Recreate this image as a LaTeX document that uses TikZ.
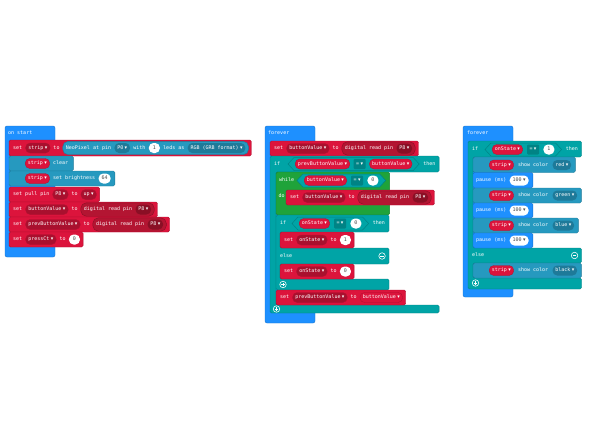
\documentclass[tikz,border=0pt]{standalone}
\usepackage{fontspec}
\usetikzlibrary{positioning,fit,calc}
\newfontfamily\monof{DejaVu Sans Mono}
\newfontfamily\symf{DejaVu Sans}
\newcommand\ftsz{\fontsize{5pt}{5.5pt}\selectfont}
\newcommand\dd{\hspace{1.4pt}{\symf ▾}}
\definecolor{mblue}{HTML}{1E90FF}
\definecolor{mblueD}{HTML}{1873CC}
\definecolor{mred}{HTML}{DC143C}
\definecolor{mredD}{HTML}{B01030}
\definecolor{ddred}{HTML}{A9102E}
\definecolor{pinred}{HTML}{B31532}
\definecolor{pinD}{HTML}{8A0F25}
\definecolor{mteal}{HTML}{00A4A6}
\definecolor{mtealD}{HTML}{008385}
\definecolor{npx}{HTML}{2699BF}
\definecolor{npxD}{HTML}{1E7A99}
\definecolor{mgreen}{HTML}{1FA33A}
\definecolor{mgreenD}{HTML}{17822E}
\pgfdeclarelayer{back}\pgfdeclarelayer{mid}
\pgfsetlayers{back,mid,main}
\tikzset{
 t/.style={font=\monof\ftsz, text=white, inner sep=0pt, text height=3.7pt, text depth=1.1pt},
 pill/.style={t, rounded corners=4.6pt, inner xsep=2.8pt, inner ysep=2.6pt},
 ddr/.style={pill, fill=ddred, draw=mredD, line width=0.3pt},
 var/.style={pill, fill=mred, draw=mredD, line width=0.3pt},
 ddn/.style={pill, fill=npxD},
 ddp/.style={pill, fill=pinD},
 num/.style={pill, fill=white, text=black!70, minimum width=11pt, inner xsep=3pt},
 op/.style={t, fill=mtealD, rounded corners=1pt, inner xsep=2.5pt, inner ysep=2.6pt},
 rep/.style={rounded corners=5.5pt, inner xsep=3pt, inner ysep=1.5pt, line width=0.4pt},
 stm/.style={line width=0.4pt, rounded corners=1.5pt},
}
% statement background: fill, draw, x, ytop, ybot, lastnode, pad, name
\newcommand\stm[8]{\coordinate (#8) at ([xshift=#7]#6.east);
 \begin{pgfonlayer}{back}\draw[stm, fill=#1, draw=#2] (#3,#4) rectangle (#8 |- 0,#5);\end{pgfonlayer}}
% reporter: fill, draw, first, last, name
\newcommand\rep[5]{\begin{pgfonlayer}{mid}\node[rep, fill=#1, draw=#2, fit=(#3)(#4)] (#5) {};\end{pgfonlayer}}
% hexagon: first, last, name of right tip
\newcommand\hexa[3]{\coordinate (#3) at ([xshift=7pt]#2.east);
 \begin{pgfonlayer}{mid}
 \draw[fill=mteal, draw=mtealD, line width=0.5pt] ([xshift=-7pt]#1.west) -- ([xshift=-1pt,yshift=6.5pt]#1.west) -- ([xshift=1pt,yshift=6.5pt]#2.east) -- (#3) -- ([xshift=1pt,yshift=-6.5pt]#2.east) -- ([xshift=-1pt,yshift=-6.5pt]#1.west) -- cycle;
 \end{pgfonlayer}}
% button: name, position, 1=plus 0=minus
\newcommand\btn[3]{\node[circle, draw=white, line width=0.55pt, minimum size=6.5pt, inner sep=0pt] (#1) at #2 {};
 \draw[white, line width=0.55pt] ([xshift=-1.7pt]#1.center) -- ([xshift=1.7pt]#1.center);
 \ifnum#3=1 \draw[white, line width=0.55pt] ([yshift=-1.7pt]#1.center) -- ([yshift=1.7pt]#1.center);\fi}
\begin{document}
\begin{tikzpicture}[x=1pt,y=-1pt]
\begin{pgfonlayer}{back}
\fill[white] (0,0) rectangle (592,444);
\end{pgfonlayer}
\useasboundingbox (0,0) rectangle (592,444);

%%%%%%%%%%%% LEFT: on start
\begin{pgfonlayer}{back}
\draw[fill=mblue, draw=mblueD, line width=0.4pt, rounded corners=2pt] (5,126) rectangle (55,257);
\end{pgfonlayer}
\node[t, anchor=west] (L0) at (8,133) {on start};
% L1
\node[t, anchor=west] (L1a) at (13,148) {set};
\node[ddr, right=3pt of L1a] (L1b) {strip\dd};
\node[t, right=3pt of L1b] (L1c) {to};
\node[t, right=6pt of L1c] (L1d) {NeoPixel at pin};
\node[ddn, right=3pt of L1d] (L1e) {P0\dd};
\node[t, right=3pt of L1e] (L1f) {with};
\node[num, right=3pt of L1f] (L1g) {1};
\node[t, right=3pt of L1g] (L1h) {leds as};
\node[ddn, right=3pt of L1h] (L1i) {RGB (GRB format)\dd};
\rep{npx}{npxD}{L1d}{L1i}{L1r}
\stm{mred}{mredD}{9}{140}{156}{L1r}{2.5pt}{L1z}
% L2
\node[var, anchor=west] (L2a) at (25,163.5) {strip\dd};
\node[t, right=3pt of L2a] (L2b) {clear};
\stm{npx}{npxD}{9}{156}{171}{L2b}{5pt}{L2z}
% L3
\node[var, anchor=west] (L3a) at (25,178.5) {strip\dd};
\node[t, right=3pt of L3a] (L3b) {set brightness};
\node[num, right=3pt of L3b] (L3c) {64};
\stm{npx}{npxD}{9}{171}{186}{L3c}{4pt}{L3z}
% L4
\node[t, anchor=west] (L4a) at (13,194.5) {set pull pin};
\node[ddr, right=3pt of L4a] (L4b) {P8\dd};
\node[t, right=3pt of L4b] (L4c) {to};
\node[ddr, right=3pt of L4c] (L4d) {up\dd};
\stm{mred}{mredD}{9}{187}{202}{L4d}{3pt}{L4z}
% L5
\node[t, anchor=west] (L5a) at (13,209.5) {set};
\node[ddr, right=3pt of L5a] (L5b) {buttonValue\dd};
\node[t, right=3pt of L5b] (L5c) {to};
\node[t, right=6pt of L5c] (L5d) {digital read pin};
\node[ddp, right=3pt of L5d] (L5e) {P8\dd};
\rep{pinred}{pinD}{L5d}{L5e}{L5r}
\stm{mred}{mredD}{9}{202}{217}{L5r}{3pt}{L5z}
% L6
\node[t, anchor=west] (L6a) at (13,224.5) {set};
\node[ddr, right=3pt of L6a] (L6b) {prevButtonValue\dd};
\node[t, right=3pt of L6b] (L6c) {to};
\node[t, right=6pt of L6c] (L6d) {digital read pin};
\node[ddp, right=3pt of L6d] (L6e) {P8\dd};
\rep{pinred}{pinD}{L6d}{L6e}{L6r}
\stm{mred}{mredD}{9}{217}{232}{L6r}{3pt}{L6z}
% L7
\node[t, anchor=west] (L7a) at (13,239.5) {set};
\node[ddr, right=3pt of L7a] (L7b) {pressCt\dd};
\node[t, right=3pt of L7b] (L7c) {to};
\node[num, right=3pt of L7c] (L7d) {0};
\stm{mred}{mredD}{9}{232}{247}{L7d}{3pt}{L7z}

%%%%%%%%%%%% MIDDLE: forever
\begin{pgfonlayer}{back}
\draw[fill=mblue, draw=mblueD, line width=0.4pt, rounded corners=2pt] (265,126) rectangle (315,323);
\end{pgfonlayer}
\node[t, anchor=west] (M0) at (268,133) {forever};
% M1
\node[t, anchor=west] (M1a) at (274,148.5) {set};
\node[ddr, right=3pt of M1a] (M1b) {buttonValue\dd};
\node[t, right=3pt of M1b] (M1c) {to};
\node[t, right=6pt of M1c] (M1d) {digital read pin};
\node[ddp, right=3pt of M1d] (M1e) {P8\dd};
\rep{pinred}{pinD}{M1d}{M1e}{M1r}
\stm{mred}{mredD}{270}{141}{156}{M1r}{3pt}{M1z}
% outer if header
\node[t, anchor=west] (M2a) at (274,164) {if};
\node[var, anchor=west] (M2b) at (295,164) {prevButtonValue\dd};
\node[op, right=3.5pt of M2b] (M2c) {=\dd};
\node[var, right=3.5pt of M2c] (M2d) {buttonValue\dd};
\hexa{M2b}{M2d}{M2h}
\node[t, right=4pt of M2h] (M2e) {then};
\coordinate (M2z) at ([xshift=3.5pt]M2e.east);
\begin{pgfonlayer}{back}
\draw[fill=mteal, draw=mtealD, line width=0.4pt, rounded corners=1.5pt] (270,156) -- (M2z |- 0,156) -- (M2z |- 0,172) -- (276,172) -- (276,305) -- (M2z |- 0,305) -- (M2z |- 0,313) -- (270,313) -- cycle;
\end{pgfonlayer}
% while
\node[t, anchor=west] (M3a) at (279,180.5) {while};
\node[var, anchor=west] (M3b) at (304,180.5) {buttonValue\dd};
\node[op, right=4pt of M3b] (M3c) {=\dd};
\node[num, right=4pt of M3c] (M3d) {0};
\hexa{M3b}{M3d}{M3h}
\coordinate (M3z) at ([xshift=4pt]M3h);
\begin{pgfonlayer}{back}
\draw[fill=mgreen, draw=mgreenD, line width=0.4pt, rounded corners=1.5pt] (276,172) rectangle (M3z |- 0,215);
\end{pgfonlayer}
\node[t, anchor=west] (M3e) at (278.5,196) {do};
% M4 inside do
\node[t, anchor=west] (M4a) at (290,197.5) {set};
\node[ddr, right=3pt of M4a] (M4b) {buttonValue\dd};
\node[t, right=3pt of M4b] (M4c) {to};
\node[t, right=6pt of M4c] (M4d) {digital read pin};
\node[ddp, right=3pt of M4d] (M4e) {P8\dd};
\rep{pinred}{pinD}{M4d}{M4e}{M4r}
\stm{mred}{mredD}{286}{190}{205}{M4r}{3pt}{M4z}
% inner if
\node[t, anchor=west] (M5a) at (280,223.5) {if};
\node[var, anchor=west] (M5b) at (299,223.5) {onState\dd};
\node[op, right=4pt of M5b] (M5c) {=\dd};
\node[num, right=4pt of M5c] (M5d) {0};
\hexa{M5b}{M5d}{M5h}
\node[t, right=4pt of M5h] (M5e) {then};
\coordinate (M5z) at ([xshift=4pt]M5e.east);
\begin{pgfonlayer}{back}
\draw[fill=mteal, draw=mtealD, line width=0.4pt, rounded corners=1.5pt] (276,215) -- (M5z |- 0,215) -- (M5z |- 0,232) -- (280,232) -- (280,248) -- (M5z |- 0,248) -- (M5z |- 0,264) -- (280,264) -- (280,279) -- (M5z |- 0,279) -- (M5z |- 0,290) -- (276,290) -- cycle;
\end{pgfonlayer}
% M6
\node[t, anchor=west] (M6a) at (284,240) {set};
\node[ddr, right=3pt of M6a] (M6b) {onState\dd};
\node[t, right=3pt of M6b] (M6c) {to};
\node[num, right=3pt of M6c] (M6d) {1};
\stm{mred}{mredD}{280}{232}{248}{M6d}{3pt}{M6z}
% else
\node[t, anchor=west] (M7a) at (280,256) {else};
\coordinate (M7p) at (M5z |- 0,256);
\btn{M7b}{([xshift=-7pt]M7p)}{0}
% M8
\node[t, anchor=west] (M8a) at (284,271.5) {set};
\node[ddr, right=3pt of M8a] (M8b) {onState\dd};
\node[t, right=3pt of M8b] (M8c) {to};
\node[num, right=3pt of M8c] (M8d) {0};
\stm{mred}{mredD}{280}{264}{279}{M8d}{3pt}{M8z}
\btn{M8e}{(283,284.5)}{1}
% M9
\node[t, anchor=west] (M9a) at (280,297.5) {set};
\node[ddr, right=3pt of M9a] (M9b) {prevButtonValue\dd};
\node[t, right=3pt of M9b] (M9c) {to};
\node[var, draw=ddred, right=3pt of M9c] (M9d) {buttonValue\dd};
\stm{mred}{mredD}{276}{290}{305}{M9d}{3pt}{M9z}
\btn{M9e}{(276.5,309)}{1}

%%%%%%%%%%%% RIGHT: forever
\begin{pgfonlayer}{back}
\draw[fill=mblue, draw=mblueD, line width=0.4pt, rounded corners=2pt] (463,126) rectangle (513,297);
\end{pgfonlayer}
\node[t, anchor=west] (R0) at (467,133) {forever};
\node[t, anchor=west] (R1a) at (472,149.5) {if};
\node[var, anchor=west] (R1b) at (492,149.5) {onState\dd};
\node[op, right=4pt of R1b] (R1c) {=\dd};
\node[num, right=4pt of R1c] (R1d) {1};
\hexa{R1b}{R1d}{R1h}
\node[t, right=4pt of R1h] (R1e) {then};
\coordinate (R1z) at ([xshift=3.5pt]R1e.east);
\begin{pgfonlayer}{back}
\draw[fill=mteal, draw=mtealD, line width=0.4pt, rounded corners=1.5pt] (468,141) -- (R1z |- 0,141) -- (R1z |- 0,157) -- (473,157) -- (473,248) -- (R1z |- 0,248) -- (R1z |- 0,263) -- (473,263) -- (473,278) -- (R1z |- 0,278) -- (R1z |- 0,289) -- (468,289) -- cycle;
\end{pgfonlayer}
% R2 red
\node[var, anchor=west] (R2a) at (489,165) {strip\dd};
\node[t, right=4pt of R2a] (R2b) {show color};
\node[ddn, right=4pt of R2b] (R2c) {red\dd};
\stm{npx}{npxD}{473}{157}{172.5}{R2c}{4pt}{R2z}
% R3 pause
\node[t, anchor=west] (R3a) at (476,180.5) {pause (ms)};
\node[num, right=3pt of R3a] (R3b) {100\dd};
\stm{mblue}{mblueD}{473}{172.5}{188}{R3b}{4pt}{R3z}
% R4 green
\node[var, anchor=west] (R4a) at (489,195.5) {strip\dd};
\node[t, right=4pt of R4a] (R4b) {show color};
\node[ddn, right=4pt of R4b] (R4c) {green\dd};
\stm{npx}{npxD}{473}{188}{203}{R4c}{4pt}{R4z}
% R5 pause
\node[t, anchor=west] (R5a) at (476,210.5) {pause (ms)};
\node[num, right=3pt of R5a] (R5b) {100\dd};
\stm{mblue}{mblueD}{473}{203}{218}{R5b}{4pt}{R5z}
% R6 blue
\node[var, anchor=west] (R6a) at (489,225.5) {strip\dd};
\node[t, right=4pt of R6a] (R6b) {show color};
\node[ddn, right=4pt of R6b] (R6c) {blue\dd};
\stm{npx}{npxD}{473}{218}{233}{R6c}{4pt}{R6z}
% R7 pause
\node[t, anchor=west] (R7a) at (476,240.5) {pause (ms)};
\node[num, right=3pt of R7a] (R7b) {100\dd};
\stm{mblue}{mblueD}{473}{233}{248}{R7b}{4pt}{R7z}
% else
\node[t, anchor=west] (R8a) at (472,255.5) {else};
\coordinate (R8p) at (R1z |- 0,255.5);
\btn{R8b}{([xshift=-7pt]R8p)}{0}
% R9 black
\node[var, anchor=west] (R9a) at (489,270.5) {strip\dd};
\node[t, right=4pt of R9a] (R9b) {show color};
\node[ddn, right=4pt of R9b] (R9c) {black\dd};
\stm{npx}{npxD}{473}{263}{278}{R9c}{4pt}{R9z}
\btn{R9d}{(475.5,283)}{1}
\end{tikzpicture}
\end{document}
